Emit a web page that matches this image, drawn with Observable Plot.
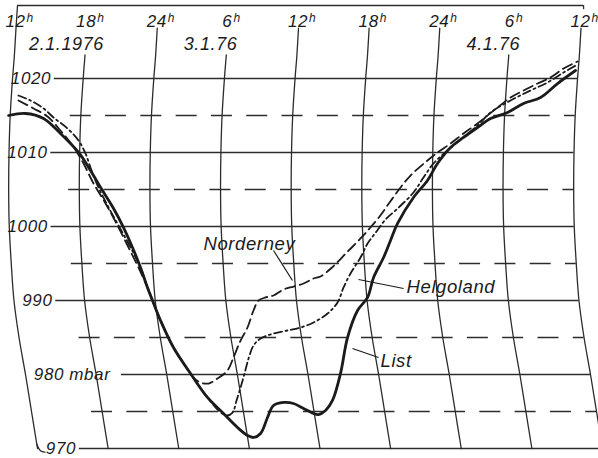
<!DOCTYPE html>
<html><head><meta charset="utf-8">
<script src="https://cdn.jsdelivr.net/npm/d3@7"></script>
<script src="https://cdn.jsdelivr.net/npm/@observablehq/plot@0.6"></script>
<style>
html,body{margin:0;padding:0;background:#fff;}
#chart svg{display:block;background:#fff;overflow:visible;}
#chart svg text{letter-spacing:0.6px;}
</style></head><body><div id="chart"></div>
<script>
// ---- tick labels / categories ----
const hourTicks = [12, 18, 24, 30, 36, 42, 48, 54, 60];          // hours since 2.1.1976 00h
const hourLabels = ["12", "18", "24", "6", "12", "18", "24", "6", "12"];
const dateLabels = ["2.1.1976", "3.1.76", "4.1.76"];
const dateHours = [16.33, 28.57, 52.6];
const pressureTicks = [1020, 1010, 1000, 990, 980, 970];
const pressureLabels = ["1020", "1010", "1000", "990", "980", "970"];
const halfTicks = [1015, 1005, 995, 985, 975];
const unitLabel = "mbar";
const unitAt = 980;

// ---- recorder pen arc (time-line bow, hours) ----
const arcP  = [1030, 1027, 1023, 1020, 1015, 1010, 1005, 1000, 995, 990, 985, 980, 975, 970];
const arcDh = [0.25, 0.05, -0.1, -0.25, -0.45, -0.55, -0.58, -0.53, -0.36, -0.13, 0.3, 0.85, 1.36, 1.87];

// ---- series: List (solid) ----
const listHours = [11.41,12.85,14.38,15.82,17.44,18.37,19.39,20.33,21.18,21.94,22.62,23.21,23.64,24.32,25.42,26.87,28.31,29.67,30.86,31.71,32.22,32.82,33.41,33.92,34.77,35.62,36.47,37.32,37.74,38.34,38.93,39.61,40.21,41.06,41.91,42.42,43.27,43.86,44.46,45.81,47.0,47.85,48.96,50.06,51.25,52.36,53.80,55.16,56.61,58.05,59.58];
const listMbar  = [1015.0,1015.27,1014.6,1012.57,1009.86,1007.57,1004.86,1002.43,999.86,997.16,994.46,991.76,990.0,987.3,983.65,980.14,976.9,974.73,972.84,971.76,971.49,972.03,974.19,975.81,976.22,976.08,975.41,974.73,974.59,975.14,976.49,980.14,985.0,988.65,990.41,993.11,995.81,998.11,1000.41,1003.92,1006.22,1008.51,1010.68,1012.03,1013.38,1014.59,1015.41,1016.62,1017.43,1019.32,1021.08];
// ---- series: Norderney (dashed) ----
const nordHours = [12.25,13.53,14.72,15.82,16.84,17.78,18.63,19.65,20.58,21.52,22.45,23.21,23.64,24.32,25.42,26.44,27.12,27.72,28.40,29.16,30.01,30.52,31.12,31.71,32.22,32.65,33.24,33.92,34.77,35.62,36.47,37.32,37.91,38.89,40.06,41.31,42.08,42.93,43.78,44.71,45.56,47.0,47.85,48.96,50.06,51.25,52.95,54.06,55.16,56.35,57.45,58.56,59.75];
const nordMbar  = [1017.03,1015.95,1014.86,1012.97,1010.95,1008.51,1005.81,1003.11,1000.41,997.43,994.46,991.76,990.0,987.3,983.65,981.08,979.59,978.92,978.78,979.46,980.54,982.30,984.59,986.35,988.65,990.0,990.41,990.68,991.49,991.89,992.30,992.97,993.24,994.46,996.35,998.38,999.73,1001.35,1003.24,1005.27,1006.89,1008.92,1010.0,1011.22,1012.57,1013.92,1016.08,1017.43,1018.38,1019.32,1020.14,1021.35,1022.30];
// ---- series: Helgoland (dash-dot) ----
const helgHours = [12.25,13.27,14.38,15.23,16.42,17.35,17.95,18.37,18.97,19.82,20.75,21.69,22.62,23.21,23.64,24.32,25.42,26.87,28.31,29.25,29.93,30.44,30.78,31.12,31.46,31.80,32.22,32.82,33.92,35.11,36.21,37.32,38.51,39.36,39.87,40.46,41.31,41.91,42.67,43.44,44.46,45.81,46.66,47.51,48.70,49.81,51.25,52.36,54.06,55.75,57.20,58.56,59.75];
const helgMbar  = [1017.70,1017.03,1015.95,1014.73,1013.24,1011.62,1009.86,1007.97,1005.54,1002.84,1000.14,997.43,994.46,991.76,990.0,987.3,983.65,980.14,976.9,975.14,974.46,974.86,976.49,978.24,980.14,982.16,983.92,984.86,985.54,985.95,986.35,987.03,988.24,989.73,991.76,993.65,995.81,997.70,999.32,1000.95,1002.43,1004.59,1006.62,1008.51,1010.27,1011.76,1013.65,1015.41,1017.03,1018.38,1019.46,1020.81,1021.89];

// ---- station labels ----
const stationNames = ["Norderney", "Helgoland", "List"];
const stationLabelHours = [27.97, 45.22, 43.01];
const stationLabelMbar = [996.89, 991.08, 981.08];
const leaderFromHours = [33.92, 44.97, 42.84];
const leaderFromMbar = [996.76, 991.62, 982.30];
const leaderToHours = [35.53, 41.14, 40.63];
const leaderToMbar = [992.70, 992.84, 983.51];

// ---- build tables ----
const dh = d3.scaleLinear().domain(arcP).range(arcDh);
const toRows = (hs, ps) => hs.map((h, i) => ({h, p: ps[i]}));
const list = toRows(listHours, listMbar);
const nord = toRows(nordHours, nordMbar);
const helg = toRows(helgHours, helgMbar);

const borderP = 1029.86;
const hourTopHigh = 1026.8, hourTopLow = 1023.2;
const timeLines = [];
hourTicks.forEach((t, i) => {
  const underDate = dateHours.some(d => Math.abs(d - t) < 2);
  const top = underDate ? hourTopLow : (i === 0 ? borderP : hourTopHigh);
  const x0 = i === 0 ? 12.17 : t + dh(top);
  timeLines.push({t, x: x0, p: top});
  arcP.filter(p => p < top).forEach(p => timeLines.push({t, x: t + dh(p), p}));
});
const hook = [{x: 12 + dh(970.6), p: 970.6}, {x: 12 + dh(970) + 0.25, p: 969.7}, {x: 14.5, p: 969.5}];
const labelX = p => 12 + dh(p) + 3.27;
const solid = pressureTicks.map((p, i) => ({p, label: pressureLabels[i],
  x1: labelX(p) + 0.28 + (p === unitAt ? 4.6 : 0), x2: 60 + dh(p)}));
const dashed = halfTicks.map(p => ({p, x1: 18 + dh(p) - 0.9, x2: 60 + dh(p)}));
const hours = hourTicks.map((t, i) => ({t, label: hourLabels[i]}));
const dates = dateLabels.map((d, i) => ({label: d, h: dateHours[i]}));
const stations = stationNames.map((n, i) => ({n, h: stationLabelHours[i], p: stationLabelMbar[i],
  h1: leaderFromHours[i], p1: leaderFromMbar[i], h2: leaderToHours[i], p2: leaderToMbar[i]}));

const ink = "#1b1b1b", gridInk = "#2c2c2c";
const font = "Liberation Sans, Arial, sans-serif";

const chart = Plot.plot({
  width: 598, height: 458, margin: 0,
  x: {domain: [12, 60], range: [15, 580], axis: null},
  y: {domain: [970, 1020], range: [448, 78], axis: null},
  style: {background: "#fff", fontFamily: font},
  marks: [
    // grid
    Plot.ruleY(solid, {y: "p", x1: "x1", x2: "x2", stroke: gridInk, strokeWidth: 1.3}),
    Plot.ruleY(dashed, {y: "p", x1: "x1", x2: "x2", stroke: gridInk, strokeWidth: 1.3, strokeDasharray: "21,14.3"}),
    Plot.line(timeLines, {x: "x", y: "p", z: "t", curve: "catmull-rom", stroke: gridInk, strokeWidth: 1.3}),
    Plot.line(hook, {x: "x", y: "p", curve: "catmull-rom", stroke: gridInk, strokeWidth: 1.3}),
    Plot.ruleY([borderP], {x1: 12.17, x2: 60.26, stroke: gridInk, strokeWidth: 1.6}),
    Plot.ruleX([60.26], {y1: borderP, y2: 1029.3, stroke: gridInk, strokeWidth: 1.3}),
    // pressure labels
    Plot.text(solid, {x: d => labelX(d.p), y: "p", text: "label", textAnchor: "end", lineAnchor: "middle",
      fontSize: 17, fontStyle: "italic", fill: ink}),
    Plot.text([unitLabel], {x: labelX(unitAt) + 0.45, y: unitAt, text: d => d, textAnchor: "start", lineAnchor: "middle",
      fontSize: 17, fontStyle: "italic", fill: ink}),
    // hour labels
    Plot.text(hours, {x: "t", y: 1027.0, text: "label", textAnchor: "middle", lineAnchor: "bottom",
      fontSize: 17, fontStyle: "italic", fill: ink}),
    Plot.text(hours.filter(d => d.label.length === 2), {x: "t", y: 1027.7, text: () => "h", dx: 11, textAnchor: "start",
      lineAnchor: "bottom", fontSize: 12, fontStyle: "italic", fill: ink}),
    Plot.text(hours.filter(d => d.label.length === 1), {x: "t", y: 1027.7, text: () => "h", dx: 6, textAnchor: "start",
      lineAnchor: "bottom", fontSize: 12, fontStyle: "italic", fill: ink}),
    // date labels
    Plot.text(dates, {x: "h", y: 1023.85, text: "label", textAnchor: "middle", lineAnchor: "bottom",
      fontSize: 18, fontStyle: "italic", fill: ink}),
    // series
    Plot.line(helg, {x: "h", y: "p", curve: "catmull-rom", stroke: ink, strokeWidth: 1.8, strokeDasharray: "8,3.5,2,3.5"}),
    Plot.line(nord, {x: "h", y: "p", curve: "catmull-rom", stroke: ink, strokeWidth: 1.8, strokeDasharray: "10,5"}),
    Plot.line(list, {x: "h", y: "p", curve: "catmull-rom", stroke: ink, strokeWidth: 2.8}),
    // station labels
    Plot.link(stations, {x1: "h1", y1: "p1", x2: "h2", y2: "p2", stroke: ink, strokeWidth: 1.2}),
    Plot.text(stations, {x: "h", y: "p", text: "n", textAnchor: "start", lineAnchor: "bottom",
      fontSize: 18.5, fontStyle: "italic", fill: ink})
  ]
});
document.getElementById("chart").appendChild(chart);
</script>
</body></html>
